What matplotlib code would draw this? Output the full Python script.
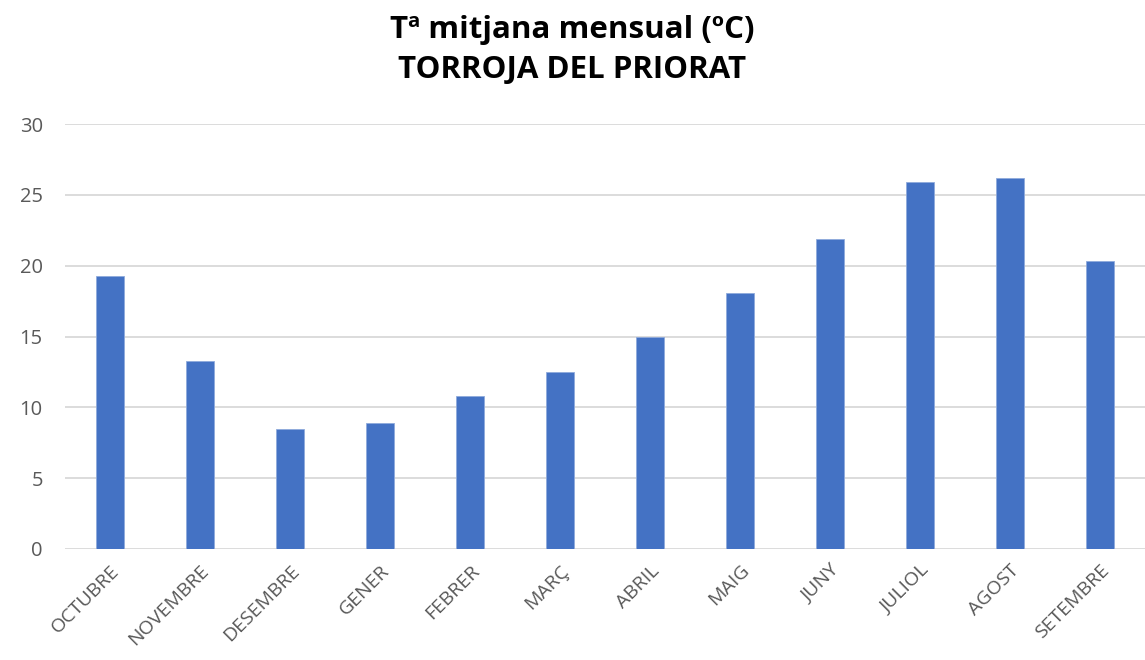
import matplotlib.pyplot as plt
import numpy as np

months = ['OCTUBRE', 'NOVEMBRE', 'DESEMBRE', 'GENER', 'FEBRER', 'MARÇ',
          'ABRIL', 'MAIG', 'JUNY', 'JULIOL', 'AGOST', 'SETEMBRE']
temps = [19.3, 13.3, 8.45, 8.9, 10.8, 12.5, 15.0, 18.1, 21.9, 25.9, 26.2, 20.3]
yticks = [0, 5, 10, 15, 20, 25, 30]

plt.rcParams['font.family'] = ['Open Sans', 'DejaVu Sans']

fig = plt.figure(figsize=(11.45, 6.6), dpi=100)
ax = fig.add_axes([65 / 1145, 111 / 660, 1080 / 1145, 425 / 660])

x = np.arange(len(months))
ax.bar(x, temps, width=0.31, color='#4472c4', edgecolor='#8faadc', linewidth=0.6, zorder=3)

ax.set_xlim(-0.5, len(months) - 0.5)
ax.set_ylim(0, 30)
ax.set_yticks(yticks)
ax.set_xticks(x)
ax.set_xticklabels(months, rotation=45, ha='right', rotation_mode='anchor')

ax.grid(axis='y', color='#d9d9d9', linewidth=1.3, zorder=0)
for s in ax.spines.values():
    s.set_visible(False)
ax.tick_params(axis='both', length=0, colors='#595959')
ax.tick_params(axis='y', pad=16, labelsize=14.5)
ax.tick_params(axis='x', pad=9, labelsize=14)

fig.text(0.5, 1 - 30 / 660, 'Tª mitjana mensual (ºC)', ha='center', va='center',
         fontsize=22.5, fontweight='bold', color='black')
fig.text(0.5, 1 - 70 / 660, 'TORROJA DEL PRIORAT', ha='center', va='center',
         fontsize=22.5, fontweight='bold', color='black')

fig.savefig('out.png', dpi=100)
